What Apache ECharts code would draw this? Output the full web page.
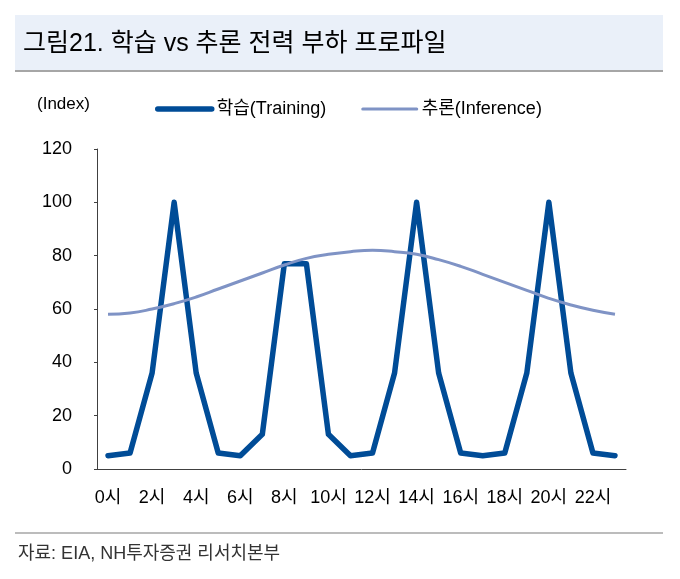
<!DOCTYPE html>
<html lang="ko">
<head>
<meta charset="utf-8">
<title>학습 vs 추론 전력 부하 프로파일</title>
<script src="https://cdn.jsdelivr.net/npm/echarts@6/dist/echarts.min.js"></script>
<style>
  html, body { margin: 0; padding: 0; background: #fff; }
  #chart { width: 680px; height: 579px; }
</style>
</head>
<body>
<div id="chart"></div>
<script>
// 시간대 (0시 ~ 23시)
var hours = ['0시','1시','2시','3시','4시','5시','6시','7시','8시','9시','10시','11시',
             '12시','13시','14시','15시','16시','17시','18시','19시','20시','21시','22시','23시'];
// 학습(Training) 부하 지수
var training = [5, 6, 36, 100, 36, 6, 5, 13, 77, 77, 13, 5,
                6, 36, 100, 36, 6, 5, 6, 36, 100, 36, 6, 5];
// 추론(Inference) 부하 지수
var inference = [58, 58.5, 60, 62, 64.5, 67.5, 70.5, 73.5, 76.5, 79, 80.5, 81.5,
                 82, 81.5, 80.5, 78.5, 76, 73, 70, 67, 64, 61.5, 59.5, 58];
var yTicks = [0, 20, 40, 60, 80, 100, 120];

var FONT = '"Liberation Sans", "Noto Sans CJK KR", sans-serif';

var chart = echarts.init(document.getElementById('chart'));
chart.setOption({
  animation: false,
  textStyle: { fontFamily: FONT },
  graphic: [
    { type: 'rect', left: 15, top: 15, shape: { width: 648, height: 56 },
      style: { fill: '#EAF0F9' } },
    { type: 'line', shape: { x1: 15, y1: 71, x2: 663, y2: 71 },
      style: { stroke: '#A6A6A6', lineWidth: 2 } },
    { type: 'text', left: 23, top: 32,
      style: { text: '그림21. 학습 vs 추론 전력 부하 프로파일', fill: '#000',
               font: '25px ' + FONT } },
    { type: 'text', left: 37, top: 96,
      style: { text: '(Index)', fill: '#000', font: '17px ' + FONT } },
    { type: 'line', shape: { x1: 15, y1: 533, x2: 663, y2: 533 },
      style: { stroke: '#A6A6A6', lineWidth: 1.5 } },
    { type: 'text', left: 18, top: 545,
      style: { text: '자료: EIA, NH투자증권 리서치본부', fill: '#333',
               font: '18px ' + FONT } }
  ],
  legend: {
    left: 150, top: 95,
    itemWidth: 54, itemHeight: 14, itemGap: 35,
    itemStyle: { opacity: 0 },
    textStyle: { fontSize: 18, color: '#000', fontFamily: FONT },
    data: [
      { name: '학습(Training)', lineStyle: { width: 5.5, color: '#004C97', cap: 'round' } },
      { name: '추론(Inference)', lineStyle: { width: 3, color: '#7F93C5', cap: 'round' } }
    ]
  },
  grid: { left: 97, right: 54, top: 149, bottom: 110 },
  xAxis: {
    type: 'category',
    data: hours,
    boundaryGap: true,
    axisLine: { lineStyle: { color: '#404040', width: 1 } },
    axisTick: { interval: 1, length: 5, lineStyle: { color: '#404040' } },
    axisLabel: { interval: 1, margin: 20, fontSize: 18, color: '#000', fontFamily: FONT }
  },
  yAxis: {
    type: 'value',
    min: yTicks[0], max: yTicks[yTicks.length - 1], interval: 20,
    splitLine: { show: false },
    axisLine: { show: true, lineStyle: { color: '#404040', width: 1 } },
    axisTick: { show: true, length: 3, lineStyle: { color: '#404040' } },
    axisLabel: { margin: 25, fontSize: 18, color: '#000', fontFamily: FONT }
  },
  series: [
    {
      name: '학습(Training)', type: 'line', data: training,
      symbol: 'none', smooth: false,
      lineStyle: { color: '#004C97', width: 5.5, cap: 'round', join: 'round' },
      itemStyle: { color: '#004C97' }
    },
    {
      name: '추론(Inference)', type: 'line', data: inference,
      symbol: 'none', smooth: true,
      lineStyle: { color: '#7F93C5', width: 3 },
      itemStyle: { color: '#7F93C5' }
    }
  ]
});
</script>
</body>
</html>
